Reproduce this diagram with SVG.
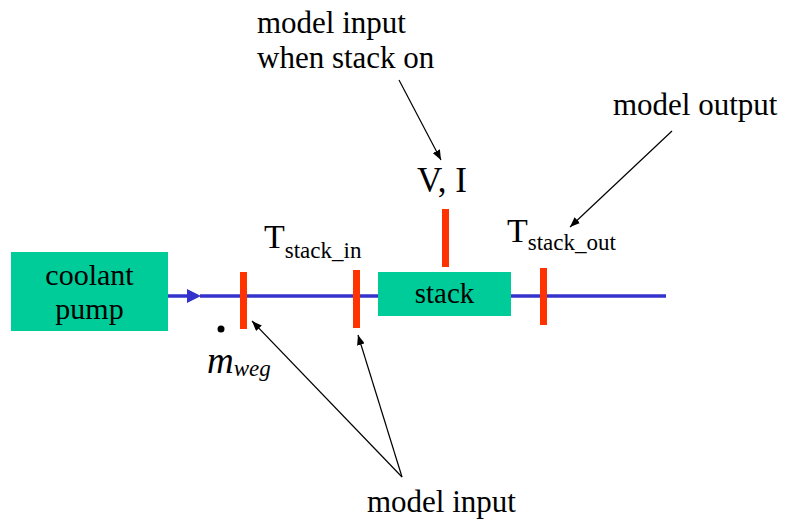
<svg xmlns="http://www.w3.org/2000/svg" width="788" height="523" viewBox="0 0 788 523" font-family="'Liberation Serif', 'Times New Roman', serif">
<defs>
<style>
text, tspan{font-family:"Liberation Serif","Times New Roman",serif}
.t{fill:#000}
.box{fill:#00CC99}
.mark{fill:#FF3300}
.pipe{stroke:#3333CC;stroke-width:3.5;fill:none}
.ptr{stroke:#000;stroke-width:1.2;fill:none;marker-end:url(#ah)}
</style>
<marker id="ah" viewBox="0 0 10 8" refX="10" refY="4" markerWidth="10" markerHeight="8" markerUnits="userSpaceOnUse" orient="auto">
<path d="M0,0 L10,4 L0,8 z" fill="#000"/>
</marker>
</defs>
<rect width="788" height="523" fill="#fff"/>
<g id="pipe">
<line class="pipe" x1="168" y1="296" x2="189" y2="296"/>
<polygon points="187,289 201,296 187,303" fill="#3333CC"/>
<line class="pipe" x1="200" y1="296" x2="378" y2="296"/>
<line class="pipe" x1="511" y1="296" x2="666" y2="296"/>
</g>
<g id="coolant-pump">
<rect class="box" x="11" y="252" width="157" height="79"/>
<text class="t" x="89.5" y="285" font-size="30" text-anchor="middle">coolant</text>
<text class="t" x="89.5" y="319" font-size="30" text-anchor="middle">pump</text>
</g>
<g id="stack">
<rect class="box" x="378" y="272" width="133" height="44"/>
<text class="t" x="444.5" y="303" font-size="29" text-anchor="middle">stack</text>
</g>
<g id="sensor-mweg">
<rect class="mark" x="240" y="272" width="7" height="57"/>
<circle cx="221" cy="329" r="3.5" fill="#000"/>
<text class="t" x="207" y="373" font-size="37" font-style="italic">m<tspan font-size="23" dy="3">weg</tspan></text>
</g>
<g id="sensor-tin">
<rect class="mark" x="353" y="270" width="7" height="58"/>
<text class="t" x="264" y="248" font-size="34">T<tspan font-size="23" dy="10">stack_in</tspan></text>
</g>
<g id="sensor-vi">
<rect class="mark" x="442" y="209" width="7" height="58"/>
<text class="t" x="442" y="192" font-size="35" text-anchor="middle">V, I</text>
</g>
<g id="sensor-tout">
<rect class="mark" x="540" y="268" width="7" height="57"/>
<text class="t" x="507" y="242" font-size="34">T<tspan font-size="23" dy="8">stack_out</tspan></text>
</g>
<g id="label-input-on">
<text class="t" x="257" y="33" font-size="31">model input</text>
<text class="t" x="257" y="68" font-size="31">when stack on</text>
</g>
<g id="label-output">
<text class="t" x="613" y="115" font-size="31">model output</text>
</g>
<g id="label-input">
<text class="t" x="367" y="512" font-size="31">model input</text>
</g>
<g id="connectors">
<line class="ptr" x1="399" y1="80" x2="441" y2="160"/>
<line class="ptr" x1="672" y1="131" x2="570" y2="227"/>
<line class="ptr" x1="402" y1="477" x2="252" y2="321"/>
<line class="ptr" x1="402" y1="477" x2="358" y2="335"/>
</g>
</svg>
